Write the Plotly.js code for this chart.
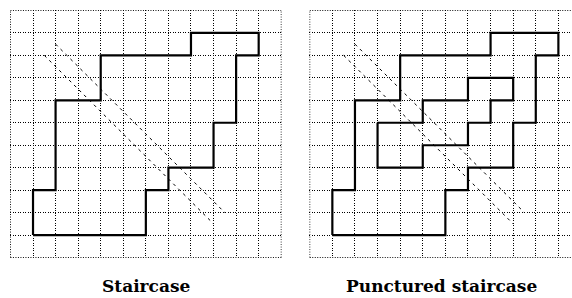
<!DOCTYPE html>
<html>
<head>
<meta charset="utf-8">
<script src="https://cdn.plot.ly/plotly-3.0.1.min.js"></script>
<style>
html,body{margin:0;padding:0;background:#fff;}
#chart{width:572px;height:298px;}
</style>
</head>
<body>
<div id="chart"></div>
<script>
// Outer staircase polygon (grid units)
const stairX = [1,1,2,2,4,4,8,8,11,11,10,10,9,9,7,7,6,6,1];
const stairY = [1,3,3,7,7,9,9,10,10,9,9,6,6,4,4,3,3,1,1];
// Inner hole of punctured staircase
const holeX = [3,5,5,7,7,9,9,8,8,7,7,5,5,3,3];
const holeY = [6,6,7,7,8,8,7,7,6,6,5,5,4,4,6];
// Dashed diagonals
const diagAX = [1.5, 9];
const diagAY = [9, 1.5];
const diagBX = [2, 9.5];
const diagBY = [9.5, 2];
// Captions
const captions = ["Staircase", "Punctured staircase"];

const W = 572, H = 298;
const ml = 10, mt = 10, mb = 298 - 258.3, mr = 0;
const pw = W - ml - mr;
const leftEnd = 281.7, rightStart = 309.3;
const dom1 = [0, (leftEnd - ml) / pw];
const dom2 = [(rightStart - ml) / pw, 1];
const cell = (leftEnd - ml) / 12;
const right2 = (W - rightStart) / cell;
const GRIDDASH = '1px,1.5px';

const polyLine = {color: '#000', width: 2.2};
const dashLine = {color: '#000', width: 1, dash: '3px,4px'};

function tr(x, y, line, xa, ya) {
  return {x: x, y: y, xaxis: xa, yaxis: ya, type: 'scatter', mode: 'lines',
          line: line, hoverinfo: 'skip', showlegend: false};
}

const data = [
  tr(diagAX, diagAY, dashLine, 'x', 'y'),
  tr(diagBX, diagBY, dashLine, 'x', 'y'),
  tr(stairX, stairY, polyLine, 'x', 'y'),
  tr(diagAX, diagAY, dashLine, 'x2', 'y2'),
  tr(diagBX, diagBY, dashLine, 'x2', 'y2'),
  tr(stairX, stairY, polyLine, 'x2', 'y2'),
  tr(holeX, holeY, polyLine, 'x2', 'y2')
];

function ax(domain, range) {
  return {domain: domain, range: range, tick0: 0, dtick: 1, showticklabels: false,
          ticks: '', showgrid: true, gridcolor: '#000', gridwidth: 1, griddash: GRIDDASH,
          zeroline: false, showline: false, fixedrange: true};
}

function edge(xref, yref, x0, y0, x1, y1) {
  return {type: 'line', xref: xref, yref: yref, x0: x0, y0: y0, x1: x1, y1: y1,
          line: {color: '#000', width: 1, dash: GRIDDASH}, layer: 'below'};
}

const layout = {
  width: W, height: H,
  margin: {l: ml, r: mr, t: mt, b: mb, pad: 0},
  paper_bgcolor: '#fff', plot_bgcolor: '#fff',
  xaxis: ax(dom1, [-0.02, 12.02]),
  yaxis: ax([0, 1], [-0.02, 11.02]),
  xaxis2: ax(dom2, [-0.02, right2]),
  yaxis2: Object.assign(ax([0, 1], [-0.02, 11.02]), {anchor: 'x2'}),
  shapes: [
    edge('x', 'y', 0, 0, 0, 11), edge('x', 'y', 12, 0, 12, 11),
    edge('x', 'y', 0, 0, 12, 0), edge('x', 'y', 0, 11, 12, 11),
    edge('x2', 'y2', 0, 0, 0, 11),
    edge('x2', 'y2', 0, 0, right2, 0), edge('x2', 'y2', 0, 11, right2, 11)
  ],
  annotations: [
    {text: '<b>' + captions[0] + '</b>', xref: 'paper', yref: 'paper',
     x: (145.8 - ml) / pw, y: (258.3 - 286) / (258.3 - mt), xanchor: 'center', yanchor: 'middle',
     showarrow: false, font: {family: 'DejaVu Serif', size: 17, color: '#000'}},
    {text: '<b>' + captions[1] + '</b>', xref: 'paper', yref: 'paper',
     x: (441 - ml) / pw, y: (258.3 - 286) / (258.3 - mt), xanchor: 'center', yanchor: 'middle',
     showarrow: false, font: {family: 'DejaVu Serif', size: 17, color: '#000'}}
  ]
};
layout.xaxis2.anchor = 'y2';

Plotly.newPlot('chart', data, layout, {staticPlot: true, displayModeBar: false});
</script>
</body>
</html>
